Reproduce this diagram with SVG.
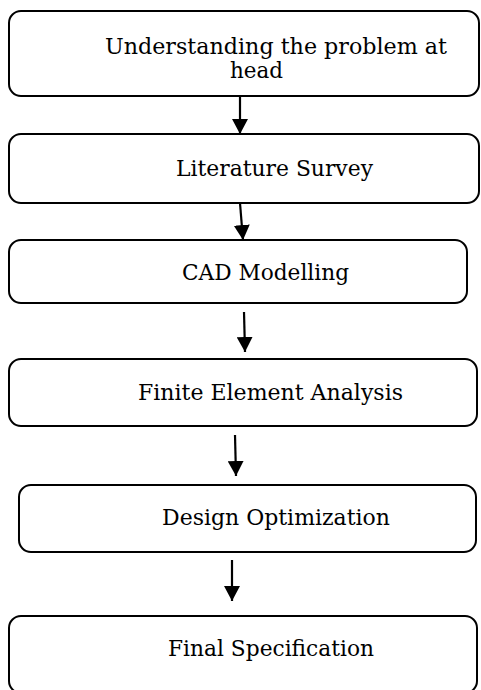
<svg xmlns="http://www.w3.org/2000/svg" width="481" height="690" viewBox="0 0 481 690">
  <defs>
    <marker id="arrowhead" markerUnits="userSpaceOnUse" markerWidth="16" markerHeight="16" refX="15" refY="8" orient="auto">
      <polygon points="0,0 15,8 0,16" fill="#000"/>
    </marker>
    <style>
      .box { fill: #fff; stroke: #000; stroke-width: 2; }
      .label { font-family: "DejaVu Serif", "Liberation Serif", serif; font-size: 22px; fill: #000; }
      .link { stroke: #000; stroke-width: 2.2; fill: none; marker-end: url(#arrowhead); }
    </style>
  </defs>
  <rect width="481" height="690" fill="#fff"/>

  <g id="connectors">
    <line class="link" x1="240" y1="96" x2="240" y2="134"/>
    <line class="link" x1="240" y1="203" x2="243" y2="240"/>
    <line class="link" x1="244" y1="312" x2="245" y2="352"/>
    <line class="link" x1="235" y1="435" x2="236" y2="476"/>
    <line class="link" x1="232" y1="560" x2="232" y2="601"/>
  </g>

  <g id="node-problem">
    <rect class="box" x="9" y="11" width="470" height="85" rx="12"/>
    <text class="label" x="105" y="54" textLength="342" lengthAdjust="spacingAndGlyphs">Understanding the problem at</text>
    <text class="label" x="230" y="78" textLength="53" lengthAdjust="spacingAndGlyphs">head</text>
  </g>

  <g id="node-literature">
    <rect class="box" x="9" y="134" width="470" height="69" rx="12"/>
    <text class="label" x="176" y="176" textLength="197" lengthAdjust="spacingAndGlyphs">Literature Survey</text>
  </g>

  <g id="node-cad">
    <rect class="box" x="9" y="240" width="458" height="63" rx="12"/>
    <text class="label" x="182" y="280" textLength="167" lengthAdjust="spacingAndGlyphs">CAD Modelling</text>
  </g>

  <g id="node-fea">
    <rect class="box" x="9" y="359" width="468" height="67" rx="12"/>
    <text class="label" x="138" y="400" textLength="265" lengthAdjust="spacingAndGlyphs">Finite Element Analysis</text>
  </g>

  <g id="node-optimization">
    <rect class="box" x="19" y="485" width="457" height="67" rx="12"/>
    <text class="label" x="162" y="525" textLength="228" lengthAdjust="spacingAndGlyphs">Design Optimization</text>
  </g>

  <g id="node-final">
    <rect class="box" x="9" y="616" width="468" height="77" rx="12"/>
    <text class="label" x="168" y="656" textLength="206" lengthAdjust="spacingAndGlyphs">Final Specification</text>
  </g>
</svg>
